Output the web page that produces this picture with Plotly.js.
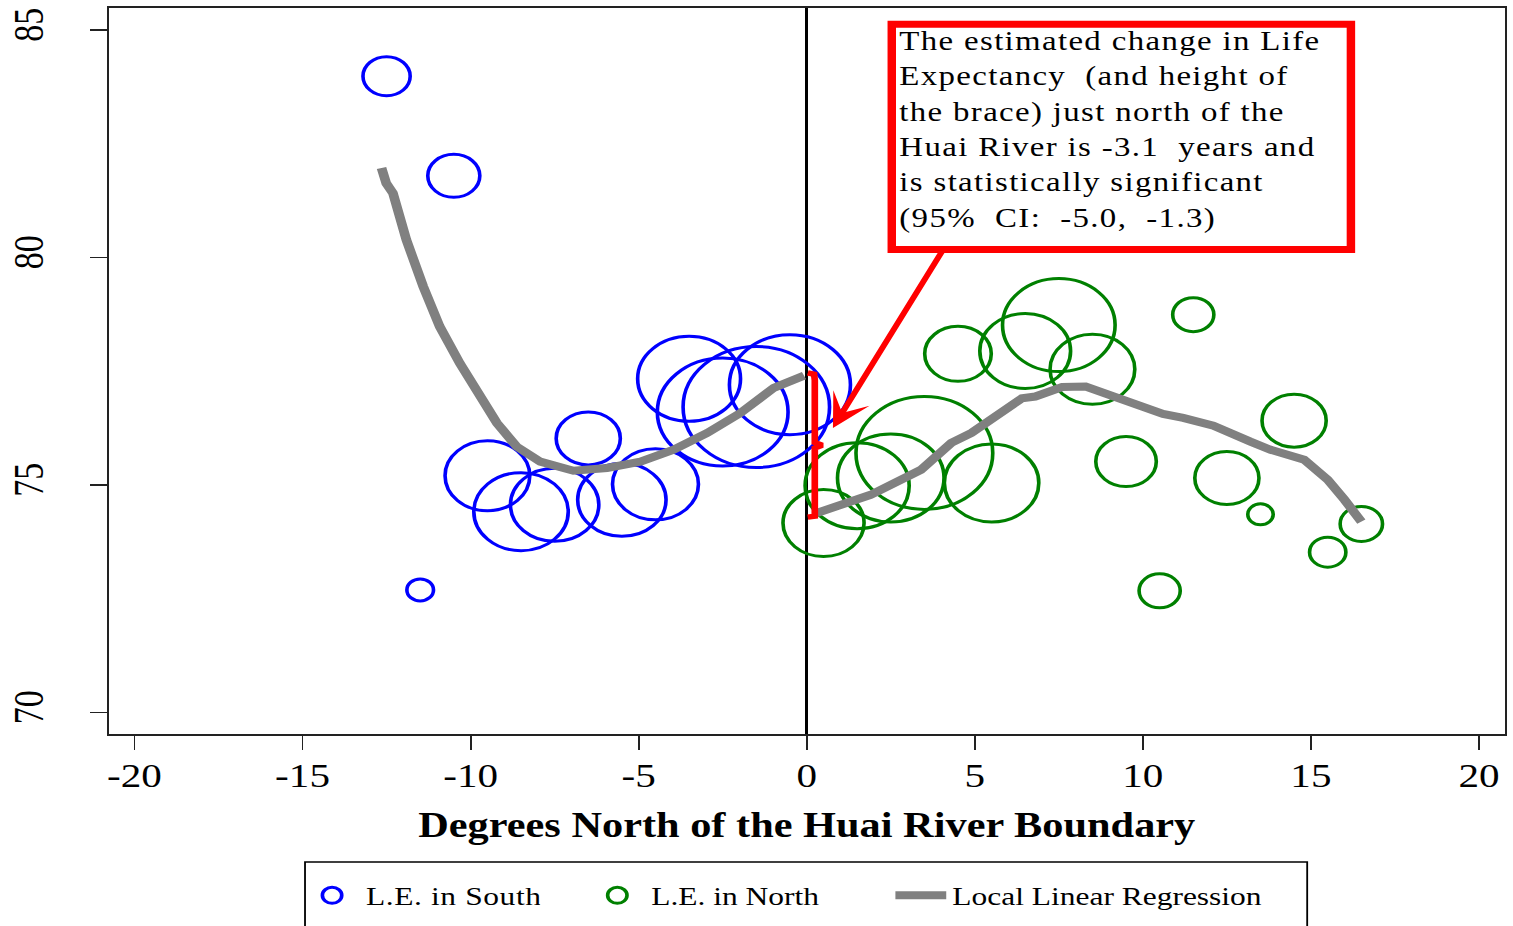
<!DOCTYPE html>
<html>
<head>
<meta charset="utf-8">
<script src="https://cdn.plot.ly/plotly-3.0.1.min.js"></script>
<style>
  html, body { margin: 0; padding: 0; background: #fff; overflow: hidden; }
  #chart { width: 1250px; height: 926px; transform: scaleX(1.2104); transform-origin: 0 0; }
  #chart .annotation-text { letter-spacing: 1.1px; }
  #chart .legendtext { letter-spacing: 0.5px; }
</style>
</head>
<body>
<div id="chart"></div>
<script>
// ---- data ----
const southX = [-12.5, -11.5, -10.5, -9.5, -8.5, -7.5, -6.5, -5.5, -4.5, -3.5, -2.5, -1.5, -0.5];
const southY = [83.98, 72.69, 81.79, 75.2, 74.41, 74.56, 76.02, 74.67, 75.01, 77.33, 76.6, 76.71, 77.2];
const southWeight = [39, 22, 43, 70, 78, 73, 53, 73, 71, 85, 108, 121, 100];

const northX = [0.5, 1.5, 2.5, 3.5, 4.5, 5.5, 6.5, 7.5, 8.5, 9.5, 10.5, 11.5, 12.5, 13.5, 14.5, 15.5, 16.5];
const northY = [74.16, 74.98, 75.15, 75.7, 77.88, 75.04, 77.94, 78.51, 77.54, 75.51, 72.67, 78.74, 75.15, 74.35, 76.41, 73.52, 74.14];
const northWeight = [67, 86, 88, 113, 55, 78, 75, 93, 70, 50, 34, 34, 53, 21, 53, 30, 35];

const llrSouthX = [-12.65, -12.51, -12.31, -11.91, -11.41, -10.92, -10.32, -9.72, -9.22, -8.63, -7.93, -6.94, -5.94, -4.95, -3.96, -2.96, -1.97, -0.98, -0.08];
const llrSouthY = [81.96, 81.63, 81.41, 80.38, 79.36, 78.48, 77.67, 76.94, 76.36, 75.84, 75.51, 75.31, 75.37, 75.51, 75.77, 76.14, 76.58, 77.13, 77.40];
const llrNorthX = [0.3, 1.9, 3.4, 4.3, 4.9, 5.6, 6.4, 6.8, 7.6, 8.3, 9.3, 10.6, 11.2, 12.1, 13.2, 13.8, 14.8, 15.5, 16.0, 16.5];
const llrNorthY = [74.38, 74.78, 75.33, 75.92, 76.14, 76.5, 76.9, 76.94, 77.15, 77.16, 76.9, 76.56, 76.47, 76.3, 75.95, 75.77, 75.55, 75.11, 74.67, 74.19];

const braceX = [0.03, 0.22, 0.24, 0.24, 0.46, 0.24, 0.24, 0.03];
const braceY = [77.46, 77.43, 77.3, 75.93, 75.87, 75.81, 74.31, 74.29];

const xTicks = [-20, -15, -10, -5, 0, 5, 10, 15, 20];
const yTicks = [70, 75, 80, 85];

const noteLines = [
  "The estimated change in Life",
  "Expectancy  (and height of",
  "the brace) just north of the",
  "Huai River is -3.1  years and",
  "is statistically significant",
  "(95%  CI:  -5.0,  -1.3)"
];
const arrowTip = [0.78, 76.25];
const arrowTail = [4.05, 80.16];

// ---- traces ----
const serif = "Liberation Serif, Times New Roman, serif";
const traces = [
  {
    x: southX, y: southY, type: "scatter", mode: "markers", name: "L.E. in South", legend: "legend",
    marker: { symbol: "circle-open", size: southWeight, sizemode: "diameter", color: "#0000ff", opacity: 1,
              line: { color: "#0000ff", width: 3 } },
    hoverinfo: "skip"
  },
  {
    x: northX, y: northY, type: "scatter", mode: "markers", name: "L.E. in North", legend: "legend2",
    marker: { symbol: "circle-open", size: northWeight, sizemode: "diameter", color: "#008000", opacity: 1,
              line: { color: "#008000", width: 3 } },
    hoverinfo: "skip"
  },
  {
    x: llrSouthX, y: llrSouthY, type: "scatter", mode: "lines", name: "Local Linear Regression",
    legend: "legend3", legendgroup: "llr", line: { color: "#808080", width: 8 }, hoverinfo: "skip"
  },
  {
    x: llrNorthX, y: llrNorthY, type: "scatter", mode: "lines", name: "Local Linear Regression",
    legend: "legend3", legendgroup: "llr", showlegend: false, line: { color: "#808080", width: 8 }, hoverinfo: "skip"
  },
  {
    x: braceX, y: braceY, type: "scatter", mode: "lines", showlegend: false,
    line: { color: "#ff0000", width: 5.5 }, hoverinfo: "skip"
  }
];

const legendBase = {
  orientation: "h", y: -0.19, yanchor: "top", xanchor: "left",
  font: { family: serif, size: 26, color: "#000" },
  bgcolor: "rgba(0,0,0,0)", borderwidth: 0
};

const layout = {
  width: 1250, height: 926,
  margin: { l: 90, r: 7, t: 8, b: 192 },
  paper_bgcolor: "#ffffff", plot_bgcolor: "#ffffff",
  font: { family: serif, color: "#000000", size: 26 },
  showlegend: true,
  legend: Object.assign({}, legendBase, { x: 0.1356, itemwidth: 46 }),
  legend2: Object.assign({}, legendBase, { x: 0.3400, itemwidth: 46 }),
  legend3: Object.assign({}, legendBase, { x: 0.5592, itemwidth: 42 }),
  xaxis: {
    range: [-20.76, 20.76], tickmode: "array", tickvals: xTicks, ticktext: xTicks.map(String),
    showgrid: false, zeroline: true, zerolinecolor: "#000", zerolinewidth: 2.5,
    showline: true, linecolor: "#222", linewidth: 2, mirror: true,
    ticks: "outside", ticklen: 14, tickwidth: 1.5, tickcolor: "#222",
    tickfont: { family: serif, size: 34, color: "#000" }, ticklabelstandoff: -4,
    title: { text: "<b>Degrees North of the Huai River Boundary</b>", font: { family: serif, size: 35, color: "#000" }, standoff: 20 },
    automargin: false, fixedrange: true
  },
  yaxis: {
    range: [69.523, 85.479], tickmode: "array", tickvals: yTicks, ticktext: yTicks.map(String),
    showgrid: false, zeroline: false,
    showline: true, linecolor: "#222", linewidth: 2, mirror: true,
    ticks: "outside", ticklen: 14, tickwidth: 1.5, tickcolor: "#222",
    tickangle: -90, tickfont: { family: serif, size: 34, color: "#000" }, ticklabelstandoff: 25,
    automargin: false, fixedrange: true
  },
  shapes: [
    { type: "rect", xref: "x", yref: "y", x0: 2.53, x1: 16.19, y0: 80.17, y1: 85.12,
      line: { color: "#ff0000", width: 7 }, fillcolor: "#ffffff", layer: "above" },
    { type: "rect", xref: "paper", yref: "paper", x0: 0.1405, x1: 0.8586, y0: -0.1763, y1: -0.30,
      line: { color: "#000", width: 1.5 }, fillcolor: "rgba(0,0,0,0)" }
  ],
  annotations: [
    { x: 2.68, y: 85.13, xref: "x", yref: "y", xanchor: "left", yanchor: "top", align: "left",
      showarrow: false, text: noteLines.join("<br>"),
      font: { family: serif, size: 27.2, color: "#000" } },
    { x: arrowTip[0], y: arrowTip[1], ax: arrowTail[0], ay: arrowTail[1], axref: "x", ayref: "y",
      xref: "x", yref: "y", text: "", showarrow: true, arrowhead: 3, arrowsize: 1.12,
      arrowwidth: 5, arrowcolor: "#ff0000" }
  ]
};

Plotly.newPlot("chart", traces, layout, { staticPlot: true, displayModeBar: false });
</script>
</body>
</html>
